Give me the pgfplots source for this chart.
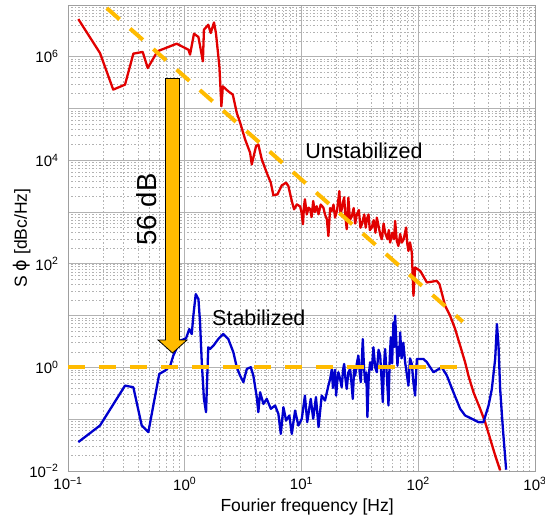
\documentclass[border=0pt]{standalone}
\usepackage{fontspec}
\setmainfont{Liberation Sans}
\newfontfamily\dejavu{DejaVu Sans}
\usepackage{pgfplots}
\pgfplotsset{compat=1.18}

\definecolor{ured}{RGB}{225,0,0}
\definecolor{sblue}{RGB}{0,0,205}
\definecolor{dashor}{RGB}{255,187,0}
\definecolor{gridgray}{RGB}{178,178,178}

\begin{document}
\begin{tikzpicture}
\path[use as bounding box] (-68pt,-49pt) rectangle (477pt,471pt);
\begin{loglogaxis}[
  scale only axis, width=467pt, height=466pt,
  xmin=0.1, xmax=1000, ymin=1e-2, ymax=1e7,
  xtick={0.1,1,10,100,1000},
  xticklabels={10\textsuperscript{−1},10\textsuperscript{0},10\textsuperscript{1},10\textsuperscript{2},10\textsuperscript{3}},
  ytick={1e-2,1e-1,1,10,100,1e3,1e4,1e5,1e6,1e7},
  yticklabels={10\textsuperscript{−2},,10\textsuperscript{0},,10\textsuperscript{2},,10\textsuperscript{4},,10\textsuperscript{6},},
  grid=both,
  major grid style={gridgray, line width=0.8pt},
  minor grid style={gridgray, line width=0.6pt, dash pattern=on 1.5pt off 2pt},
  axis line style={gray!75, line width=0.8pt},
  major tick length=0pt, minor tick length=0pt,
  ticklabel style={font=\fontsize{15}{18}\selectfont},
  xticklabel style={yshift=-3pt},
  yticklabel style={xshift=-6pt},
  xlabel={Fourier frequency [Hz]},
  ylabel={S {\dejavu ϕ} [dBc/Hz]},
  label style={font=\fontsize{17.5}{20}\selectfont},
  xlabel style={at={(axis description cs:0.512,0)}, anchor=center, yshift=-36pt},
  ylabel style={at={(axis description cs:-0.0985,0.5)}, anchor=center},
]

% unstabilized
\addplot[ured, line width=2.3pt, line join=round] coordinates {
(0.1225,5.35e6) (0.188,1.18e6) (0.244,2.32e5) (0.308,2.9e5) (0.363,1.15e6)
(0.436,1.24e6) (0.482,6.08e5) (0.585,1.28e6) (0.853,1.79e6) (1.074,1.37e6)
(1.11,1.10e6) (1.20,2.79e6) (1.31,2.41e6) (1.43,8.15e5) (1.46,3.33e6)
(1.59,4.15e6) (1.67,2.88e6) (1.78,4.6e6) (1.85,2.88e6) (1.98,6.53e5)
(2.06,1.11e5) (2.12,2.69e5) (2.36,2.15e5) (2.58,1.86e5) (2.79,8.26e4)
(2.98,5.37e4) (3.29,2.53e4) (3.63,1.40e4) (3.75,8.34e3) (4.08,1.88e4)
(4.27,2.02e4) (4.57,1.04e4) (5.10,5.35e3) (5.46,3.70e3) (5.74,2.11e3)
(6.22,2.20e3) (6.78,3.28e3) (7.38,3.70e3) (7.72,3.18e3) (8.26,1.64e3)
(8.64,1.13e3) (9.12,1.41e3) (9.73,1.29e3) (10.0,1.0e3) (10.3,582)
(10.5,1.3e3) (10.7,1.77e3) (11.1,900) (11.5,1.22e3) (11.9,1.13e3)
(12.2,800) (12.6,1.64e3) (13.0,1.0e3) (13.5,1.3e3) (14.0,907)
(14.6,1.4e3) (15.4,1.22e3) (15.9,900) (16.5,727) (17.0,346)
(17.6,1.2e3) (18.2,1.05e3) (18.8,1.4e3) (19.4,783) (20.2,1.1e3)
(21.1,2.55e3) (21.6,900) (22.1,1.13e3) (22.6,1.5e3) (23.2,1.93e3)
(23.8,800) (24.4,467) (25.2,1.90e3) (26.0,700) (27.0,841)
(28.0,1.2e3) (28.8,600) (29.8,907) (31.0,1.1e3) (32.0,500)
(32.9,582) (34.5,900) (35.5,500) (36.3,727) (37.5,900)
(38.5,450) (40.0,503) (41.5,700) (43.0,400) (44.2,783)
(46.0,500) (47.5,350) (48.8,299) (50.5,600) (52.0,403)
(54.5,300) (56.0,450) (57.4,258) (60.0,400) (62.0,300)
(63.4,674) (65.5,280) (67.6,222) (70.0,380) (72.4,258)
(75.0,300) (78.7,503) (80.5,250) (82.4,178) (85.0,260)
(88.1,166) (91.0,24.2) (94.0,85.3) (104,73.3) (118.6,43.8)
(144,47.0) (152,40.6) (170,15.5) (187.6,9.96) (207,5.52)
(228.6,2.63) (252,1.26) (269,0.695) (297,0.333) (339,0.159)
(374,0.088) (413,0.042) (456,0.020) (503,0.0103)
};

% stabilized
\addplot[sblue, line width=2.3pt, line join=round] coordinates {
(0.1225,0.0362) (0.188,0.0756) (0.308,0.446) (0.363,0.415) (0.428,0.0756)
(0.488,0.0564) (0.538,0.184) (0.605,0.749) (0.678,0.868) (0.748,1.05)
(0.798,1.69) (0.912,3.28) (1.026,3.65) (1.094,5.52) (1.148,4.42)
(1.185,9.96) (1.242,26.1) (1.31,20.9) (1.352,7.43) (1.399,1.26)
(1.46,0.247) (1.522,0.137) (1.59,2.45) (1.647,2.27) (1.758,2.63)
(1.94,3.54) (2.14,4.42) (2.36,3.54) (2.61,1.96) (2.79,1.01)
(2.98,0.695) (3.18,0.519) (3.40,0.936) (3.68,1.01) (3.87,0.695)
(4.14,0.267) (4.27,0.137) (4.42,0.333) (4.72,0.198) (5.04,0.247)
(5.46,0.159) (5.94,0.184) (6.34,0.127) (6.65,0.052) (7.00,0.171)
(7.38,0.0944) (7.87,0.118) (8.26,0.052) (8.81,0.147) (9.40,0.0756)
(10.06,0.102) (10.7,0.286) (11.2,0.088) (12.0,0.247) (12.6,0.102)
(13.3,0.267) (14.0,0.0705) (14.9,0.286) (15.9,0.229) (17.0,0.446)
(17.6,0.6) (18.2,0.936) (18.6,0.4) (19.0,0.695) (19.4,0.9)
(19.8,0.286) (20.2,0.5) (20.7,0.808) (21.4,0.6) (22.1,0.415)
(22.7,0.9) (23.2,1.17) (23.8,0.6) (24.4,0.385) (25.2,0.8)
(26.1,0.936) (26.8,0.5) (27.5,0.247) (28.2,0.9) (28.8,0.695)
(29.8,1.2) (30.7,1.69) (31.5,0.8) (32.2,0.519) (32.9,1.4)
(33.5,3.54) (34.3,1.0) (35.1,0.519) (35.9,0.8) (36.7,0.110)
(37.7,0.7) (38.7,1.26) (40.0,0.9) (41.3,2.45) (42.8,1.0)
(44.2,0.808) (45.7,2.2) (47.2,1.69) (48.5,0.6) (49.7,0.214)
(50.8,1.0) (52.0,2.27) (53.8,0.7) (55.6,0.184) (57.0,1.5)
(58.2,3.82) (59.7,1.2) (61.3,7.43) (62.3,2.5) (63.4,9.96)
(65.0,3.0) (66.4,1.08) (67.7,2.5) (69.0,1.69) (70.0,4.77)
(72.0,1.5) (74.5,3.0) (77.2,1.26) (79.5,0.8) (82.4,0.446)
(85.0,1.5) (88.1,1.17) (91.0,0.5) (94.0,0.286) (97.3,1.46)
(111,1.46) (118.6,1.26) (135,0.808) (159,1.01) (176,0.695)
(200,0.333) (228.6,0.159) (252,0.118) (288,0.102) (328,0.088)
(362,0.088) (400,0.184) (427,0.385) (456,1.46) (472,6.89)
(487,2.63) (503,0.385) (531,0.0653) (566,0.0106)
};

% guide lines
\addplot[dashor, line width=4pt, dash pattern=on 17pt off 14pt] coordinates {(0.215,8.71e6) (241,7.63)};
\addplot[dashor, line width=4pt, dash pattern=on 17pt off 14pt] coordinates {(0.1,1) (257,1)};

\node[font=\fontsize{21.5}{24}\selectfont] at (axis cs:34.3,1.5e4) {Unstabilized};
\node[font=\fontsize{21.5}{24}\selectfont] at (axis cs:4.31,9.27) {Stabilized};
\node[rotate=90, font=\fontsize{27.5}{30}\selectfont] at (axis cs:0.475,1.13e3) {56 dB};

\coordinate (T) at (axis cs:0.786,3.79e5);
\coordinate (H) at (axis cs:0.786,1.9);
\draw[black, line width=0.8pt, fill=dashor, line join=miter]
  ([xshift=-7pt]T) -- ([xshift=7pt]T) -- ([xshift=7pt,yshift=13pt]H)
  -- ([xshift=14.5pt,yshift=13pt]H) -- (H) -- ([xshift=-14.5pt,yshift=13pt]H)
  -- ([xshift=-7pt,yshift=13pt]H) -- cycle;
\end{loglogaxis}
\end{tikzpicture}
\end{document}
